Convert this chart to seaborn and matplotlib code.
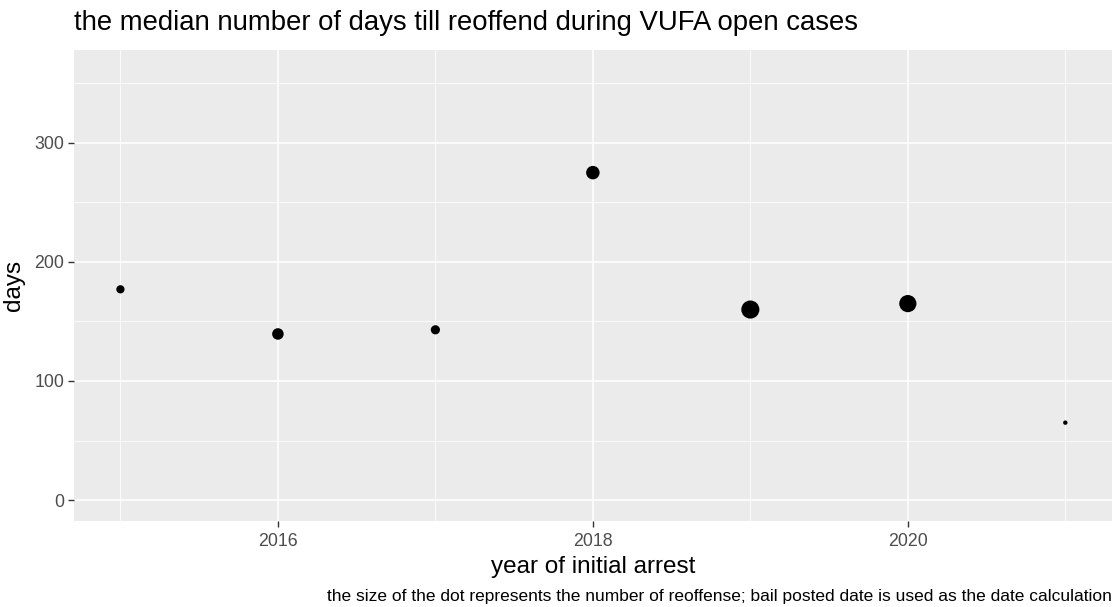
import matplotlib
matplotlib.use("Agg")
import matplotlib.pyplot as plt
import seaborn as sns
import pandas as pd
from matplotlib.ticker import MultipleLocator

years = [2015, 2016, 2017, 2018, 2019, 2020, 2021]
median_days = [177, 139.5, 143, 275, 160, 165, 65]
reoffense_counts = [4, 8, 5, 11, 20, 18, 1]

df = pd.DataFrame({"year": years, "days": median_days, "n": reoffense_counts})

sns.set_theme(style="darkgrid", rc={
    "axes.facecolor": "#EBEBEB",
    "grid.color": "white",
    "axes.edgecolor": "#EBEBEB",
})
plt.rcParams["font.family"] = ["Liberation Sans", "DejaVu Sans"]

fig = plt.figure(figsize=(11.14, 6.07), dpi=100)
ax = fig.add_axes([0.0664, 0.1417, 0.9316, 0.7759])

sns.scatterplot(data=df, x="year", y="days", size="n", sizes=(10, 170),
                color="black", edgecolor="none", legend=False, ax=ax, zorder=3)

ax.set_xlim(2014.705, 2021.295)
ax.set_ylim(-17.6, 378)
ax.xaxis.set_major_locator(MultipleLocator(2))
ax.xaxis.set_minor_locator(MultipleLocator(1))
ax.yaxis.set_major_locator(MultipleLocator(100))
ax.yaxis.set_minor_locator(MultipleLocator(50))
ax.grid(which="major", color="white", linewidth=1.1)
ax.grid(which="minor", color="white", linewidth=0.55)
ax.set_axisbelow(True)
for s in ax.spines.values():
    s.set_visible(False)

ax.tick_params(axis="x", which="major", pad=5)
ax.tick_params(axis="y", which="major", pad=3)
ax.tick_params(axis="both", which="major", length=4, width=1.0, color="#333333",
               labelsize=12.8, labelcolor="#4D4D4D", bottom=True, left=True)
ax.tick_params(axis="both", which="minor", length=0)

ax.set_xlabel("year of initial arrest", fontsize=17.5, color="black", labelpad=4)
ax.set_ylabel("days", fontsize=17.5, color="black", labelpad=7)

fig.text(0.0664, 0.962, "the median number of days till reoffend during VUFA open cases",
         fontsize=19.8, color="black", ha="left", va="center")
fig.text(0.998, 0.018,
         "the size of the dot represents the number of reoffense; bail posted date is used as the date calculation",
         fontsize=12.5, color="black", ha="right", va="center")

fig.savefig("out.png", dpi=100)
